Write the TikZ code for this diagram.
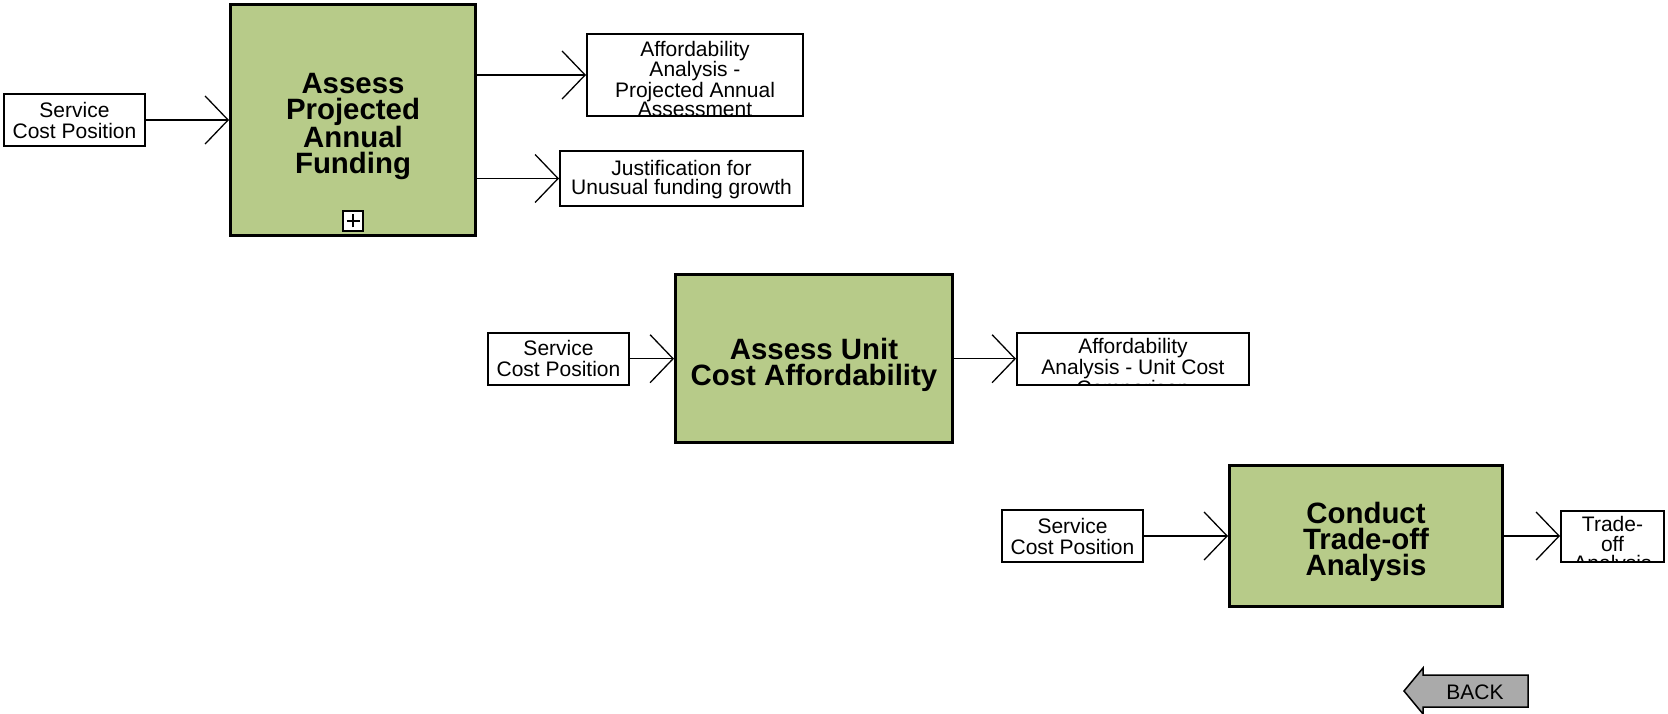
\documentclass[tikz,border=0pt]{standalone}
\usepackage{fontspec}
\setmainfont{Liberation Sans}
\usetikzlibrary{positioning,arrows.meta}
\definecolor{actgreen}{RGB}{183,203,137}
\definecolor{backgray}{RGB}{170,170,170}
\newcommand{\actstrut}{\rule{0pt}{33pt}}
\tikzset{flow/.style={draw, line width=1.3pt, -{Straight Barb[length=23pt, width=48pt]}},
    cliptext/.style 2 args={path picture={
        \node[anchor=north, align=center, inner sep=0pt, font=\fontsize{21}{19.5}\selectfont]
            at ([yshift=-#1]path picture bounding box.north) {#2};
        }
    },
    plusbox/.style={draw, line width=2pt, fill=white, inner sep=0pt, minimum size=20pt,
        path picture={
        \draw[line width=1.3pt] ([xshift=-6.5pt]path picture bounding box.center) -- ++(13pt,0pt);
        \draw[line width=1.3pt] ([yshift=-6.5pt]path picture bounding box.center) -- ++(0pt,13pt);
        }
    }
}
\tikzstyle{activity} = [draw, line width=3pt, fill=actgreen, align=center, inner sep=0pt,
    font=\fontsize{29.4}{26}\selectfont\bfseries]
\tikzstyle{datain} = [draw, line width=2pt, fill=white, align=center, inner sep=0pt,
    minimum width=141pt, minimum height=52pt, font=\fontsize{21}{21}\selectfont]
\tikzstyle{dataout} = [draw, line width=2pt, fill=white, inner sep=0pt]

\begin{document}
\begin{tikzpicture}[x=1pt, y=-1pt]
    \useasboundingbox (0,0) rectangle (1668,714);

    % assess projected annual funding
    \node [activity, minimum width=245pt, minimum height=231pt] (apf) at (353,120) {\actstrut Assess\\Projected\\Annual\\Funding};
    \node [plusbox, above=5pt of apf.south] (apfplus) {};
    \node [datain, left=83pt of apf] (scp1) {Service\\Cost Position};
    \node [dataout, minimum width=216pt, minimum height=82pt, above right=3pt and 109pt of apf.east,
        cliptext={3pt}{Affordability\\Analysis -\\Projected Annual\\Assessment}] (aap) {};
    \node [dataout, minimum width=243pt, minimum height=55pt, below right=30pt and 82pt of apf.east,
        cliptext={0pt}{Justification for\\Unusual funding growth}] (jfg) {};

    \draw [flow] (scp1) -- (apf);
    \draw [flow] (apf.east |- aap.west) -- (aap.west);
    \draw [flow] (apf.east |- jfg.west) -- (jfg.west);

    % assess unit cost affordability
    \node [activity, minimum width=277pt, minimum height=168pt] (auc) at (814,358.7) {\actstrut Assess Unit\\Cost Affordability};
    \node [datain, left=44pt of auc] (scp2) {Service\\Cost Position};
    \node [dataout, minimum width=232pt, minimum height=52pt, right=62pt of auc,
        cliptext={5pt}{Affordability\\Analysis - Unit Cost\\Comparison}] (aau) {};

    \draw [flow] (scp2) -- (auc);
    \draw [flow] (auc) -- (aau);

    % conduct trade-off analysis
    \node [activity, minimum width=273pt, minimum height=141pt] (cto) at (1366,536) {\actstrut Conduct\\Trade-off\\Analysis};
    \node [datain, left=84pt of cto] (scp3) {Service\\Cost Position};
    \node [dataout, minimum width=103pt, minimum height=51pt, right=56pt of cto,
        cliptext={5pt}{Trade-\\off\\Analysis}] (toa) {};

    \draw [flow] (scp3) -- (cto);
    \draw [flow] (cto) -- (toa);

    % back button
    \coordinate (backtip) at (1404,691);
    \filldraw [fill=backgray, line width=1.5pt] (backtip) -- ++(19,-23) -- ++(0,7) -- ++(105,0)
        -- ++(0,32) -- ++(-105,0) -- ++(0,7) -- cycle;
    \node [font=\fontsize{21}{21}\selectfont] (back) at (1475,692) {BACK};
\end{tikzpicture}
\end{document}
